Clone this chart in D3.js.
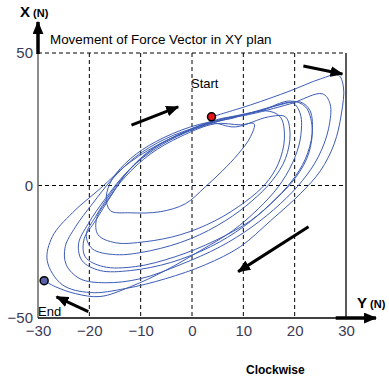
<!DOCTYPE html>
<html>
<head>
<meta charset="utf-8">
<script src="https://cdn.jsdelivr.net/npm/d3@7"></script>
<style>
  body { margin: 0; background: #fff; }
  svg { display: block; font-family: Arial, "Liberation Sans", sans-serif; }
</style>
</head>
<body>
<svg id="chart" width="389" height="378"></svg>
<script>
// force vector trace, [Y (N), X (N)] pairs
var loopA = [[3.8, 25.9], [11.4, 30.4], [19.1, 35.7], [25.0, 40.2], [28.5, 41.7], [29.5, 37.2],
  [29.1, 27.0], [27.7, 15.7], [25.0, 5.5], [21.1, -3.1], [15.3, -13.3], [9.4, -23.1],
  [2.6, -29.9], [-5.2, -35.2], [-13.0, -38.9], [-19.8, -40.4], [-25.3, -37.4], [-28.2, -28.4],
  [-27.2, -19.3], [-23.3, -10.3], [-17.9, -1.2], [-12.0, 8.9], [-5.2, 16.8], [2.6, 22.9]];
var loopB = [[9.4, 26.3], [16.2, 30.0], [21.1, 31.5], [23.0, 28.2], [23.4, 19.5], [22.1, 10.1],
  [19.5, 1.8], [15.3, -6.9], [10.0, -15.6], [3.6, -23.1], [-4.2, -29.1], [-12.0, -32.1],
  [-17.9, -32.1], [-21.4, -28.4], [-22.1, -22.0], [-20.2, -14.4], [-16.9, -5.0], [-13.0, 4.4],
  [-8.1, 13.1], [-2.3, 19.5], [3.6, 23.6]];
var loopC = [[8.4, 22.1], [14.9, 25.9], [18.2, 25.9], [19.1, 19.5], [18.2, 10.1], [15.6, 1.8],
  [11.7, -5.8], [6.5, -13.3], [-0.3, -20.1], [-8.1, -24.6], [-14.9, -26.1], [-19.4, -23.9],
  [-20.6, -18.6], [-18.8, -11.8], [-15.9, -3.1], [-12.0, 6.3], [-7.1, 13.9], [-1.3, 19.9],
  [5.5, 24.4]];
var loopG = [[7.5, 25.2], [14.3, 28.2], [17.2, 25.9], [18.0, 17.6], [16.8, 8.2], [14.3, 0.6],
  [10.4, -6.1], [4.5, -13.3], [-2.3, -18.6], [-9.1, -21.2], [-14.9, -21.6], [-18.3, -18.6],
  [-18.6, -12.6], [-16.3, -5.0], [-13.0, 3.3], [-8.1, 11.9], [-2.3, 18.4], [4.5, 23.3]];
var loopD = [[9.4, 22.9], [12.1, 23.3], [11.4, 18.4], [9.0, 11.9], [5.9, 5.5], [2.6, -0.5],
  [-1.3, -6.9], [-6.2, -9.9], [-12.0, -10.3], [-15.9, -9.5], [-16.7, -4.3], [-15.5, 2.5],
  [-12.0, 10.1], [-7.1, 16.5], [-0.3, 22.1], [6.5, 25.2]];
var loopE = [[13.3, 28.2], [19.1, 31.9], [22.1, 29.7], [23.4, 22.1], [22.7, 11.9], [20.3, 3.3],
  [16.4, -5.0], [11.4, -13.3], [4.5, -20.8], [-3.3, -26.9], [-11.0, -30.6], [-17.3, -30.6],
  [-20.8, -26.9], [-21.0, -20.1], [-18.8, -13.3], [-15.9, -4.3], [-12.4, 5.5], [-7.7, 13.9],
  [-1.3, 20.2], [5.5, 25.2]];
var loopF = [[10.4, 26.5], [19.1, 30.8], [25.4, 34.6], [26.9, 30.8], [26.6, 21.4], [24.6, 10.8],
  [21.5, 1.8], [17.2, -6.9], [11.7, -15.6], [5.5, -23.1], [-2.3, -29.9], [-10.1, -35.2],
  [-16.9, -36.7], [-21.8, -35.2], [-24.5, -29.9], [-24.7, -23.1], [-22.7, -15.6], [-19.4, -6.9],
  [-15.5, 2.5], [-11.0, 10.8], [-5.2, 17.6], [1.6, 22.5], [7.5, 25.9]];
var loopEnd = [[13.3, 28.2], [19.5, 31.2], [21.1, 27.0], [21.1, 17.6], [19.5, 8.2], [16.8, -0.5],
  [12.9, -8.8], [7.9, -17.1], [1.6, -24.6], [-5.2, -32.1], [-12.0, -38.2], [-17.9, -41.9],
  [-22.7, -40.8], [-26.6, -38.2], [-28.8, -35.9]];

var yTicks = [-30, -20, -10, 0, 10, 20, 30];   // horizontal axis (Y)
var xTicks = [-50, 0, 50];                      // vertical axis (X)
var yGrid = [-20, -10, 0, 10, 20];
var xGrid = [0, 50];

// direction arrows, [y0, x0, y1, x1]
var arrows = [[-11.8, 22.8, -2.7, 29.7], [21.7, 45.1, 29.3, 42.1],
  [22.7, -15.6, 9.0, -32.5], [-20.2, -47.6, -26.4, -42.0]];

var trace = loopA.concat(loopB, loopC, loopG, loopD, loopE, loopF, loopEnd);

var svg = d3.select('#chart');
var x = d3.scaleLinear().domain([-30, 30]).range([38, 346]);
var y = d3.scaleLinear().domain([-50, 50]).range([318, 53]);

svg.append('defs').append('marker')
  .attr('id', 'head')
  .attr('viewBox', '0 0 12 10')
  .attr('refX', 11)
  .attr('refY', 5)
  .attr('markerUnits', 'userSpaceOnUse')
  .attr('markerWidth', 13)
  .attr('markerHeight', 11)
  .attr('orient', 'auto')
  .append('path')
  .attr('d', 'M0,0 L12,5 L0,10 Z')
  .attr('fill', '#000');

// dashed grid
svg.selectAll('.vgrid')
  .data(yGrid)
  .enter()
  .append('line')
  .attr('class', 'vgrid')
  .attr('x1', function(d) {return x(d);})
  .attr('x2', function(d) {return x(d);})
  .attr('y1', y(50))
  .attr('y2', y(-50))
  .attr('stroke', '#000')
  .attr('stroke-dasharray', '4,3');
svg.selectAll('.hgrid')
  .data(xGrid)
  .enter()
  .append('line')
  .attr('class', 'hgrid')
  .attr('x1', x(-30))
  .attr('x2', x(30))
  .attr('y1', function(d) {return y(d);})
  .attr('y2', function(d) {return y(d);})
  .attr('stroke', '#000')
  .attr('stroke-dasharray', '4,3');

// right frame
svg.append('line')
  .attr('x1', x(30)).attr('x2', x(30))
  .attr('y1', y(50)).attr('y2', y(-50))
  .attr('stroke', '#000').attr('stroke-width', 1.3);

// axes
svg.append('g')
  .attr('transform', 'translate(0,' + y(-50) + ')')
  .call(d3.axisBottom(x).tickValues(yTicks).tickSize(0).tickPadding(7).tickFormat(d3.format('d')));
svg.append('g')
  .attr('transform', 'translate(' + x(-30) + ',0)')
  .call(d3.axisLeft(y).tickValues(xTicks).tickSize(0).tickPadding(5).tickFormat(d3.format('d')));
svg.selectAll('.domain').remove();
svg.selectAll('.tick text')
  .attr('font-size', '15px')
  .attr('font-family', 'Arial, "Liberation Sans", sans-serif')
  .attr('fill', '#3c3a58');

svg.append('line')
  .attr('x1', x(-30)).attr('x2', x(-30))
  .attr('y1', y(50)).attr('y2', y(-50))
  .attr('stroke', '#666').attr('stroke-width', 1.5);
svg.append('line')
  .attr('x1', x(-30)).attr('x2', x(30))
  .attr('y1', y(-50)).attr('y2', y(-50))
  .attr('stroke', '#000').attr('stroke-width', 1.5);
// axis arrows
svg.append('line')
  .attr('x1', x(-30)).attr('x2', x(-30))
  .attr('y1', y(50) + 1).attr('y2', 22)
  .attr('stroke', '#000').attr('stroke-width', 3.5)
  .attr('marker-end', 'url(#head)');
svg.append('line')
  .attr('x1', x(28)).attr('x2', 376)
  .attr('y1', y(-50)).attr('y2', y(-50))
  .attr('stroke', '#000').attr('stroke-width', 3.5)
  .attr('marker-end', 'url(#head)');

// trajectory
var line = d3.line()
  .x(function(d) {return x(d[0]);})
  .y(function(d) {return y(d[1]);})
  .curve(d3.curveCatmullRom.alpha(0.5));
svg.append('path')
  .datum(trace)
  .attr('d', line)
  .attr('fill', 'none')
  .attr('stroke', '#3d5cb6')
  .attr('stroke-width', 1);

// direction arrows
svg.selectAll('.dir')
  .data(arrows)
  .enter()
  .append('line')
  .attr('class', 'dir')
  .attr('x1', function(d) {return x(d[0]);})
  .attr('y1', function(d) {return y(d[1]);})
  .attr('x2', function(d) {return x(d[2]);})
  .attr('y2', function(d) {return y(d[3]);})
  .attr('stroke', '#000')
  .attr('stroke-width', 3)
  .attr('marker-end', 'url(#head)');

// start / end dots
var first = trace[0], last = trace[trace.length - 1];
svg.append('circle')
  .attr('cx', x(first[0])).attr('cy', y(first[1])).attr('r', 4)
  .attr('fill', '#e8141c').attr('stroke', '#000').attr('stroke-width', 1.5);
svg.append('circle')
  .attr('cx', x(last[0])).attr('cy', y(last[1])).attr('r', 4)
  .attr('fill', '#5862a8').attr('stroke', '#000').attr('stroke-width', 1.5);

// text
svg.append('text').text('Movement of Force Vector in XY plan')
  .attr('x', 50).attr('y', 44).attr('font-size', '13.4px').attr('fill', '#000');
svg.append('text').text('Start')
  .attr('x', 191).attr('y', 88).attr('font-size', '13px').attr('fill', '#000');
svg.append('text').text('End')
  .attr('x', 38).attr('y', 316).attr('font-size', '13px').attr('fill', '#000');
svg.append('text').text('Clockwise')
  .attr('x', 246).attr('y', 374).attr('font-size', '12px').attr('font-weight', 'bold').attr('fill', '#000');

var xl = svg.append('text').attr('x', 20).attr('y', 17).attr('font-weight', 'bold').attr('fill', '#000');
xl.append('tspan').text('X').attr('font-size', '15px');
xl.append('tspan').text(' (N)').attr('font-size', '11px');
var yl = svg.append('text').attr('x', 357).attr('y', 308).attr('font-weight', 'bold').attr('fill', '#000');
yl.append('tspan').text('Y').attr('font-size', '15px');
yl.append('tspan').text(' (N)').attr('font-size', '11px');
</script>
</body>
</html>
